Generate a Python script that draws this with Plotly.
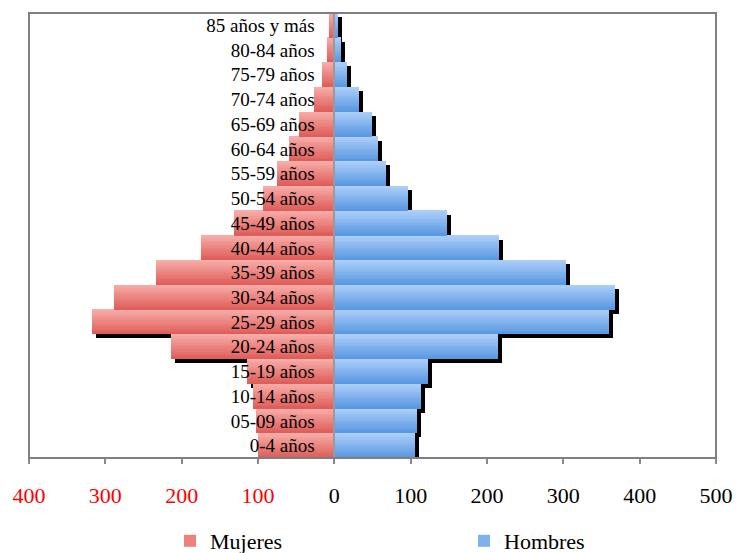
import plotly.graph_objects as go

# Population pyramid by five-year age group (thousands of people)
age_groups = [
    "0-4 años", "05-09 años", "10-14 años", "15-19 años", "20-24 años",
    "25-29 años", "30-34 años", "35-39 años", "40-44 años", "45-49 años",
    "50-54 años", "55-59 años", "60-64 años", "65-69 años", "70-74 años",
    "75-79 años", "80-84 años", "85 años y más",
]
mujeres = [100, 102, 106, 114, 214, 317, 288, 233, 175, 131, 94, 75, 60, 46, 27, 16, 10, 7]
hombres = [106, 108, 113, 123, 215, 360, 368, 304, 216, 148, 97, 68, 57, 49, 32, 17, 9, 5]

x_tick_values = [-400, -300, -200, -100, 0, 100, 200, 300, 400, 500]
x_tick_labels = ["400", "300", "200", "100", "0", "100", "200", "300", "400", "500"]

# Canvas geometry
W, H = 736, 553
M = dict(l=29, r=20, t=13, b=95, autoexpand=False)
X_RANGE = [-400, 500]
plot_w = W - M["l"] - M["r"]
plot_h = H - M["t"] - M["b"]
units_per_px = (X_RANGE[1] - X_RANGE[0]) / plot_w
band_px = plot_h / len(age_groups)

# Drop shadow offset: 4 px right, 4 px down
SHADOW_DX = 4 * units_per_px
SHADOW_DY = 4 / band_px

N_BANDS = 14  # vertical gradient slices per bar
SERIF = "Liberation Serif"


def hex_to_rgb(h):
    h = h.lstrip("#")
    return tuple(int(h[i:i + 2], 16) for i in (0, 2, 4))


def blend(c1, c2, t):
    a, b = hex_to_rgb(c1), hex_to_rgb(c2)
    return "rgb(%d,%d,%d)" % tuple(round(a[i] + (b[i] - a[i]) * t) for i in range(3))


def px_to_paper_x(px):
    return (px - M["l"]) / plot_w


def px_to_paper_y(py):
    return (H - M["b"] - py) / plot_h


series = [
    dict(name="Mujeres", x=[-v for v in mujeres], top="#F8ACA8", bottom="#DF5E5A",
         legend="legend"),
    dict(name="Hombres", x=list(hombres), top="#ABCEF8", bottom="#5A99E2",
         legend="legend2"),
]

fig = go.Figure()

# Black drop shadows behind the bars
for s in series:
    fig.add_trace(go.Bar(
        y=age_groups, x=s["x"], base=SHADOW_DX, orientation="h",
        width=1.0, offset=-0.5 - SHADOW_DY,
        marker=dict(color="black", line=dict(width=0)),
        showlegend=False, hoverinfo="skip",
    ))

# Bars with a top-to-bottom gradient built from thin horizontal slices
legend_band = N_BANDS // 2
for s in series:
    for k in range(N_BANDS):
        t = k / (N_BANDS - 1)
        fig.add_trace(go.Bar(
            y=age_groups, x=s["x"], orientation="h",
            width=1.0 / N_BANDS + 0.012, offset=0.5 - (k + 1) / N_BANDS,
            marker=dict(color=blend(s["top"], s["bottom"], t), line=dict(width=0)),
            name=s["name"], legendgroup=s["name"], legend=s["legend"],
            showlegend=(k == legend_band), hoverinfo="skip",
        ))

tick_text = [
    ('<span style="color:#FF0000">%s</span>' % lab) if v < 0 else lab
    for v, lab in zip(x_tick_values, x_tick_labels)
]

legend_style = dict(
    orientation="h", xanchor="left", yanchor="middle",
    font=dict(family=SERIF, size=22, color="black"),
    bgcolor="rgba(0,0,0,0)", borderwidth=0,
)

fig.update_layout(
    width=W, height=H,
    margin=M,
    template="none",
    paper_bgcolor="white", plot_bgcolor="white",
    barmode="overlay", bargap=0,
    font=dict(family=SERIF, color="black"),
    xaxis=dict(
        range=X_RANGE, tickvals=x_tick_values, ticktext=tick_text,
        ticks="outside", ticklen=5, tickwidth=1.5, tickcolor="#8a8a8a",
        tickfont=dict(family=SERIF, size=22, color="black"),
        ticklabelstandoff=13,
        showgrid=False, zeroline=False, showline=False, automargin=False,
        fixedrange=True,
    ),
    yaxis=dict(
        type="category", categoryorder="array", categoryarray=age_groups,
        range=[-0.5, len(age_groups) - 0.5],
        anchor="free", position=(0 - X_RANGE[0]) / (X_RANGE[1] - X_RANGE[0]),
        showline=True, linecolor="#9a9a9a", linewidth=2,
        ticks="", ticklabelstandoff=15,
        tickfont=dict(family=SERIF, size=19, color="black"),
        showgrid=False, zeroline=False, automargin=False, fixedrange=True,
    ),
    legend=dict(legend_style, x=px_to_paper_x(170), y=px_to_paper_y(541)),
    legend2=dict(legend_style, x=px_to_paper_x(464), y=px_to_paper_y(541)),
    shapes=[dict(
        type="rect", xref="paper", yref="paper", x0=0, x1=1, y0=0, y1=1,
        line=dict(color="#808080", width=2), fillcolor="rgba(0,0,0,0)", layer="above",
    )],
)

fig.write_html("out.html")
